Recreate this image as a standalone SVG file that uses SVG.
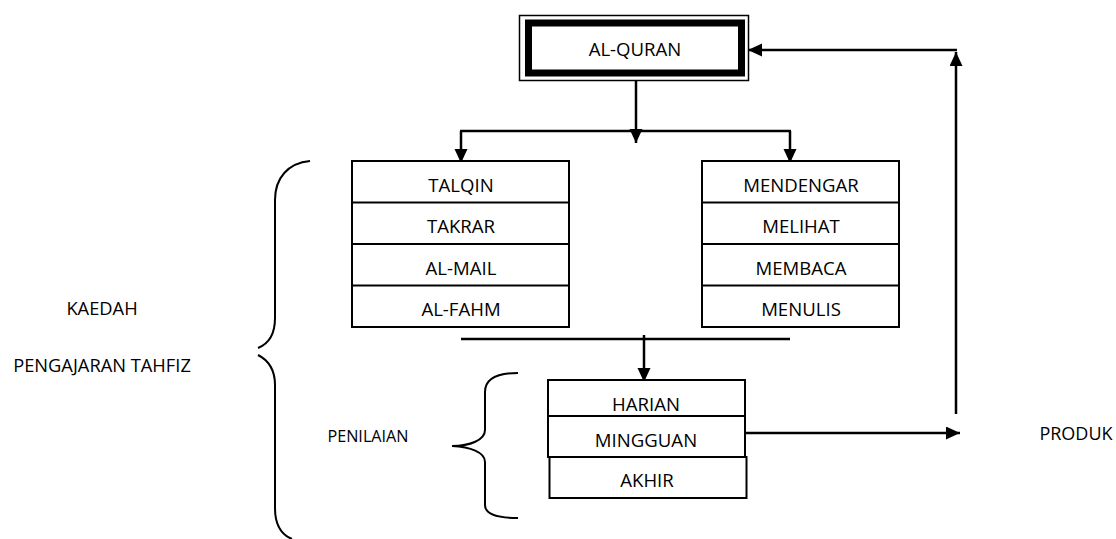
<svg xmlns="http://www.w3.org/2000/svg" width="1116" height="539" viewBox="0 0 1116 539">
<defs>
<marker id="ah" markerUnits="userSpaceOnUse" markerWidth="15" markerHeight="14" refX="14" refY="6.5" orient="auto">
<path d="M0,0 L14,6.5 L0,13 z" fill="#000"/>
</marker>
<style>
.box{fill:#fff;stroke:#000;stroke-width:2}
.sep{stroke:#000;stroke-width:2}
.t{font-family:"Open Sans","Liberation Sans",sans-serif;font-size:18.6px;fill:#000;text-anchor:middle}
.s{font-family:"Open Sans","Liberation Sans",sans-serif;font-size:18.3px;fill:#000;text-anchor:middle}
.c{fill:none;stroke:#000;stroke-width:2.5}
.a{fill:none;stroke:#000;stroke-width:2.5;marker-end:url(#ah)}
.br{fill:none;stroke:#000;stroke-width:2}
</style>
</defs>
<rect width="1116" height="539" fill="#fff"/>
<g id="connectors">
<line class="a" x1="636" y1="81" x2="636" y2="143"/>
<line class="c" x1="460" y1="131" x2="791" y2="131"/>
<line class="a" x1="461" y1="131" x2="461" y2="163"/>
<line class="a" x1="790" y1="131" x2="790" y2="163"/>
<line class="c" x1="461" y1="339" x2="790" y2="339"/>
<line class="a" x1="644" y1="335" x2="644" y2="382"/>
<line class="a" x1="745" y1="433" x2="960" y2="433"/>
<line class="a" x1="956" y1="414" x2="956" y2="52"/>
<line class="a" x1="957" y1="50" x2="748" y2="50"/>
</g>
<g id="alquran">
<rect x="519.5" y="15.5" width="229" height="65" fill="#fff" stroke="#000" stroke-width="1.5"/>
<rect x="528.5" y="23" width="213" height="50" fill="#fff" stroke="#000" stroke-width="7"/>
<text class="t" x="635" y="56">AL-QURAN</text>
</g>
<g id="kaedah-kiri">
<rect class="box" x="352" y="161" width="217" height="166"/>
<line class="sep" x1="352" y1="202.5" x2="569" y2="202.5"/>
<line class="sep" x1="352" y1="244" x2="569" y2="244"/>
<line class="sep" x1="352" y1="285.5" x2="569" y2="285.5"/>
<text class="t" x="461" y="191.5">TALQIN</text>
<text class="t" x="461" y="233">TAKRAR</text>
<text class="t" x="461" y="275">AL-MAIL</text>
<text class="t" x="461" y="316">AL-FAHM</text>
</g>
<g id="kaedah-kanan">
<rect class="box" x="702" y="161" width="197" height="166"/>
<line class="sep" x1="702" y1="202.5" x2="899" y2="202.5"/>
<line class="sep" x1="702" y1="244" x2="899" y2="244"/>
<line class="sep" x1="702" y1="285.5" x2="899" y2="285.5"/>
<text class="t" x="801" y="191.5">MENDENGAR</text>
<text class="t" x="801" y="233">MELIHAT</text>
<text class="t" x="801" y="275">MEMBACA</text>
<text class="t" x="801" y="316">MENULIS</text>
</g>
<g id="penilaian-box">
<rect class="box" x="548" y="380" width="197" height="36"/>
<rect class="box" x="548" y="416" width="197" height="41"/>
<rect class="box" x="549.5" y="457" width="197" height="41"/>
<text class="t" x="646" y="411">HARIAN</text>
<text class="t" x="646" y="447">MINGGUAN</text>
<text class="t" x="647" y="487">AKHIR</text>
</g>
<g id="brace-kaedah">
<path class="br" d="M310,161 C288,163 275,178 275,200 L275,318 C275,335 268,344 258,348"/>
<path class="br" d="M258,355 C268,360 275,370 275,385 L275,508 C275,525 282,535 292,539"/>
<text class="s" x="102" y="315">KAEDAH</text>
<text class="s" x="102" y="372">PENGAJARAN TAHFIZ</text>
</g>
<g id="brace-penilaian">
<path class="br" d="M518,373 C498,373 485,378 485,392 L485,430 C485,440 470,446 452,446 C470,447 485,452 485,462 L485,505 C485,514 498,518 518,518"/>
<text class="s" x="368" y="442" style="font-size:16.2px">PENILAIAN</text>
</g>
<g id="produk">
<text class="t" x="1076" y="440" style="font-size:18px">PRODUK</text>
</g>
</svg>
